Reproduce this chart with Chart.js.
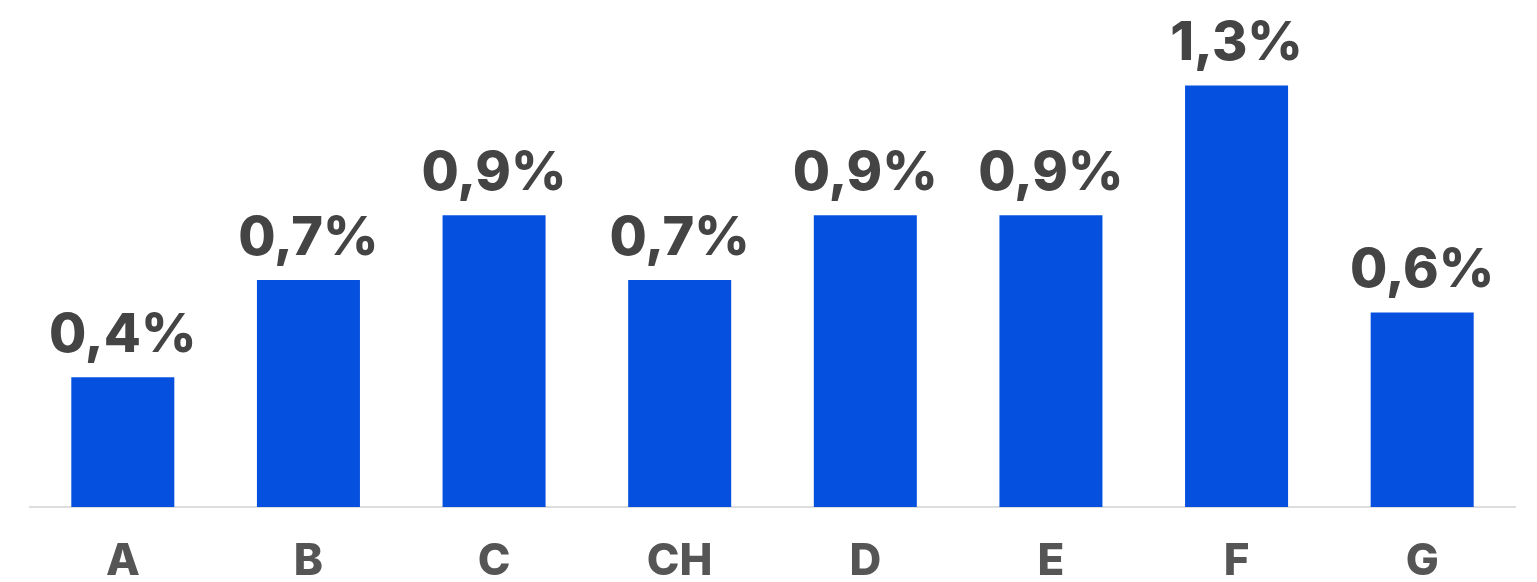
<!DOCTYPE html>
<html><head><meta charset="utf-8">
<script src="https://cdn.jsdelivr.net/npm/chart.js@4"></script>
<style>html,body{margin:0;padding:0;background:#fff}#wrap{width:1537px;height:582px}</style>
</head><body><div id="wrap"><canvas id="c"></canvas></div>
<script>
const categories = ["A","B","C","CH","D","E","F","G"];
const values = [0.4,0.7,0.9,0.7,0.9,0.9,1.3,0.6];
const valueLabels = ["0,4%","0,7%","0,9%","0,7%","0,9%","0,9%","1,3%","0,6%"];

const labelPlugin = {
  id: 'valLabels',
  afterDatasetsDraw(chart){
    const ctx = chart.ctx;
    const meta = chart.getDatasetMeta(0);
    ctx.save();
    ctx.font = '800 54px Inter';
    ctx.fillStyle = '#444444';
    ctx.textAlign = 'center';
    ctx.textBaseline = 'alphabetic';
    meta.data.forEach((bar,i)=>{
      ctx.fillText(valueLabels[i], bar.x, bar.y - 25);
    });
    ctx.restore();
  }
};

new Chart(document.getElementById('c'), {
  type: 'bar',
  data: { labels: categories, datasets: [{ data: values, backgroundColor: '#0650E0', borderWidth: 0, barPercentage: 0.555, categoryPercentage: 1 }] },
  options: {
    responsive: true, maintainAspectRatio: false, animation: false,
    layout: { padding: { left: 30, right: 22, top: 53, bottom: 4 } },
    plugins: { legend: { display: false }, tooltip: { enabled: false } },
    scales: {
      x: { grid: { display: false }, border: { display: true, color: '#dddddd', width: 2 },
           afterFit(scale){ scale.height = 71; },
           ticks: { color: '#555555', padding: 20, font: { family: 'Inter', size: 44, weight: '800' } } },
      y: { display: false, min: 0, max: 1.4 }
    }
  },
  plugins: [labelPlugin]
});
</script></body></html>
